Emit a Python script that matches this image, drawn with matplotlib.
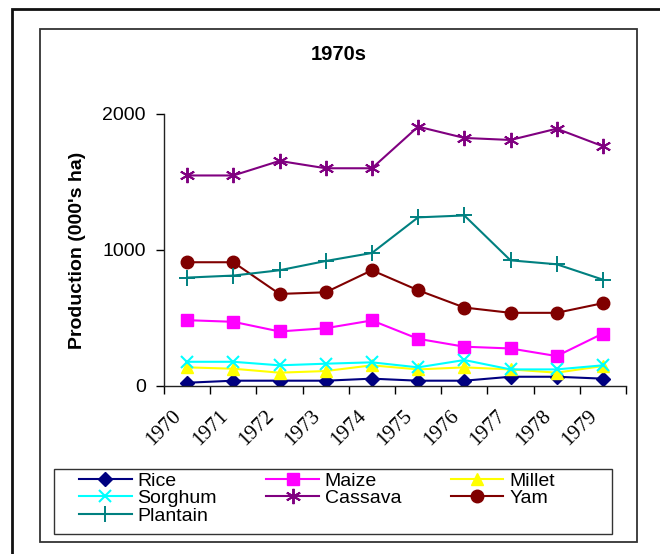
import matplotlib
matplotlib.use('Agg')
import matplotlib.pyplot as plt
import matplotlib.transforms as mtransforms
from matplotlib.patches import Rectangle
import numpy as np

plt.rcParams['font.family'] = ['Liberation Sans', 'DejaVu Sans']

years = ['1970', '1971', '1972', '1973', '1974', '1975', '1976', '1977', '1978', '1979']
rice = [24, 39, 39, 39, 54, 39, 39, 68, 68, 54]
maize = [484, 472, 401, 425, 482, 347, 289, 276, 220, 386]
millet = [137, 127, 98, 110, 152, 122, 137, 122, 98, 147]
sorghum = [178, 178, 152, 164, 174, 137, 191, 122, 122, 152]
cassava = [1548, 1548, 1655, 1601, 1601, 1907, 1824, 1809, 1892, 1763]
yam = [910, 910, 677, 689, 851, 704, 577, 538, 538, 609]
plantain = [797, 812, 851, 919, 978, 1240, 1254, 924, 895, 782]

navy = (0.0, 0.0, 0.5)
magenta = (1.0, 0.0, 1.0)
yellow = (1.0, 1.0, 0.0)
cyan = (0.0, 1.0, 1.0)
purple = (0.5, 0.0, 0.5)
maroon = (0.5, 0.0, 0.0)
teal = (0.0, 0.5, 0.5)

fig = plt.figure(figsize=(6.6, 5.54), dpi=100)
W, H = 660.0, 554.0


# boxes given in pixel coords from the top-left
def px_rect(x0, y0, x1, y1, lw, col):
    r = Rectangle((x0 / W, 1 - y1 / H), (x1 - x0) / W, (y1 - y0) / H, transform=fig.transFigure,
                  fill=False, lw=lw, edgecolor=col, clip_on=False)
    fig.patches.append(r)


px_rect(12, 9, 680, 574, 2.0, '#111111')
px_rect(40, 29, 637, 542, 1.3, '#333333')
px_rect(54, 469, 612, 534, 1.0, '#333333')

ax = fig.add_axes([164 / W, 1 - 386 / H, (626 - 164) / W, (386 - 114) / H])
ax.patch.set_alpha(0)

x = np.arange(len(years))
lines = {}
lines['Rice'] = ax.plot(x, rice, color=navy, marker='D', markersize=7, lw=1.5, label='Rice')[0]
lines['Maize'] = ax.plot(x, maize, color=magenta, marker='s', markersize=9, lw=1.5, label='Maize')[0]
lines['Millet'] = ax.plot(x, millet, color=yellow, marker='^', markersize=9, lw=1.5, label='Millet')[0]
lines['Sorghum'] = ax.plot(x, sorghum, color=cyan, marker='x', markersize=9, mew=1.5, lw=1.5, label='Sorghum')[0]
lines['Cassava'] = ax.plot(x, cassava, color=purple, marker=(6, 2, 0), markersize=11, mew=1.4, lw=1.5,
                           label='Cassava')[0]
lines['Yam'] = ax.plot(x, yam, color=maroon, marker='o', markersize=9, lw=1.5, label='Yam')[0]
lines['Plantain'] = ax.plot(x, plantain, color=teal, marker='+', markersize=11, mew=1.4, lw=1.5,
                            label='Plantain')[0]

ax.set_xlim(-0.5, len(years) - 0.5)
ax.set_ylim(0, 2000)
ax.set_yticks([0, 1000, 2000])
ax.tick_params(axis='y', labelsize=14, length=6, width=1, pad=7, direction='out')
ax.set_xticks(np.arange(-0.5, len(years)), minor=True)
ax.set_xticks(x)
ax.set_xticklabels(years, rotation=45, ha='right', va='top', rotation_mode='anchor', fontsize=15,
                   family='Liberation Serif')
ax.tick_params(axis='x', which='major', length=0, pad=15)
ax.tick_params(axis='x', which='minor', length=6, width=1, direction='out')
offset = mtransforms.ScaledTranslation(-15 / 100, 0, fig.dpi_scale_trans)
for lab in ax.get_xticklabels():
    lab.set_transform(lab.get_transform() + offset)

for s in ['top', 'right']:
    ax.spines[s].set_visible(False)
for s in ['left', 'bottom']:
    ax.spines[s].set_linewidth(1)
    ax.spines[s].set_color('#222222')

ax.set_ylabel("Production (000's ha)", fontsize=14, fontweight='bold', labelpad=12)
fig.text(339 / W, 1 - 55 / H, '1970s', fontsize=14.5, fontweight='bold', ha='center', va='center')

order = ['Rice', 'Sorghum', 'Plantain', 'Maize', 'Cassava', 'Millet', 'Yam']
leg = fig.legend([lines[k] for k in order], order, ncol=3, loc='upper left',
                 bbox_to_anchor=(79 / W, 1 - 472 / H),
                 fontsize=14, frameon=False, handlelength=2.7, handletextpad=0.3,
                 labelspacing=0.0, columnspacing=2.55, borderpad=0, borderaxespad=0)

plt.savefig('out.png', dpi=100)
